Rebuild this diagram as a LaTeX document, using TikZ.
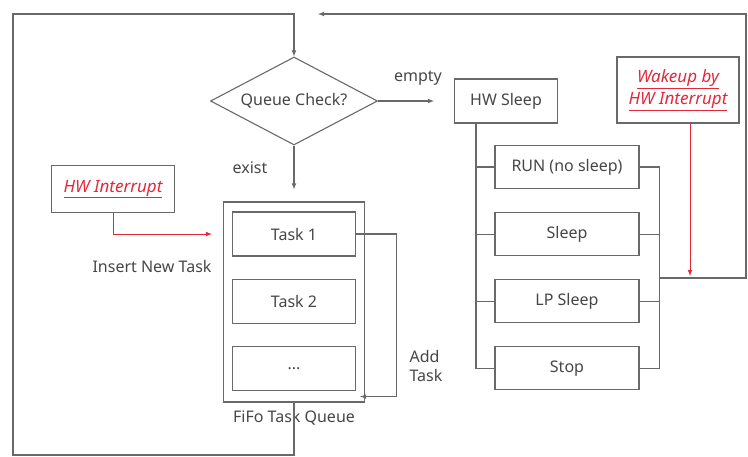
\documentclass[tikz,border=0pt]{standalone}
\usepackage{fontspec}
\setmainfont{Noto Sans}
\usetikzlibrary{shapes.geometric,positioning,arrows}
\definecolor{linegray}{RGB}{105,105,105}
\definecolor{textgray}{RGB}{70,70,70}
\definecolor{irqred}{RGB}{228,40,60}

\begin{document}
\begin{tikzpicture}[
    x=1pt, y=-1pt, >=latex,
    every node/.style={text=textgray, font=\fontsize{16}{19}\selectfont},
    line/.style={draw=linegray, line width=1.1pt},
    box/.style={line, rectangle, inner sep=2pt},
    task/.style={box, minimum width=123pt, minimum height=44pt},
    mode/.style={box, minimum width=144pt, minimum height=43pt},
    irq/.style={box, align=center, text=irqred,
      font=\fontsize{17}{22}\selectfont\itshape},
    irqline/.style={draw=irqred, line width=1pt}
  ]
  \useasboundingbox (0,0) rectangle (748,456);

  %% Decision
  \node[line, diamond, aspect=1.9, inner sep=1pt,
    minimum width=167pt, minimum height=88pt] (check) at (294,101) {Queue Check?};
  \node (empty) at (418,78) {empty};
  \node (exist) at (250,168) {exist};

  %% Task queue
  \node[box, minimum width=141pt, minimum height=200pt] (queue) at (294,302) {};
  \node[task] (task1) at (294,234) {Task 1};
  \node[task, below=22pt of task1] (task2) {Task 2};
  \node[task, below=22pt of task2] (task3) {...};
  \node[below=4pt of queue] (fifo) {FiFo Task Queue};
  \node[align=left] (add) at (426,366) {Add\\Task};

  %% Interrupt into queue
  \node[irq, minimum width=123pt, minimum height=47pt] (irq) at (113,189) {\underline{HW Interrupt}};
  \node (insert) at (152,266) {Insert New Task};

  %% Sleep modes
  \node[box, minimum width=103pt, minimum height=44pt] (hwsleep) at (506,101) {HW Sleep};
  \node[mode] (run) at (567,167) {RUN (no sleep)};
  \node[mode, below=23pt of run] (sleep) {Sleep};
  \node[mode, below=23pt of sleep] (lpsleep) {LP Sleep};
  \node[mode, below=23pt of lpsleep] (stop) {Stop};
  \node[irq, minimum width=122pt, minimum height=66pt] (wake) at (678,90)
    {\underline{Wakeup by}\\\underline{HW Interrupt}};

  \coordinate (lcorner) at (13,14);
  \coordinate (lbottom) at (13,455);
  \coordinate (rcorner) at (746,14);
  \coordinate (loopin) at (318,14);
  \coordinate (busjoin) at (659,278);
  \coordinate (wakeend) at (690,276);
  \coordinate (addend) at ([shift={(-5,-6)}]queue.south east);

  %% Flow
  \draw[line,->,shorten >=20pt] (check.east) -- (hwsleep.west);
  \draw[line,->,shorten >=12pt] (check.south) -- (queue.north);
  \draw[line,->] (queue.south) |- (lbottom) -- (lcorner) -| (check.north);
  \draw[line,->] (task1.east) -- ++(40,0) |- (addend);
  \draw[irqline,->,shorten >=20pt] (irq.south) |- (task1.west);

  %% Mode buses
  \draw[line] ([xshift=-30pt]hwsleep.south) |- (stop.west);
  \foreach \m in {run,sleep,lpsleep}
    \draw[line] (\m.west) -- ++(-19,0);
  \draw[line] (run.east) -- ++(20,0) |- (stop.east);
  \foreach \m in {sleep,lpsleep}
    \draw[line] (\m.east) -- ++(20,0);
  \draw[line,->] (busjoin) -| (rcorner) -- (loopin);
  \draw[irqline,->] (wake.south -| wakeend) -- (wakeend);
\end{tikzpicture}
\end{document}
